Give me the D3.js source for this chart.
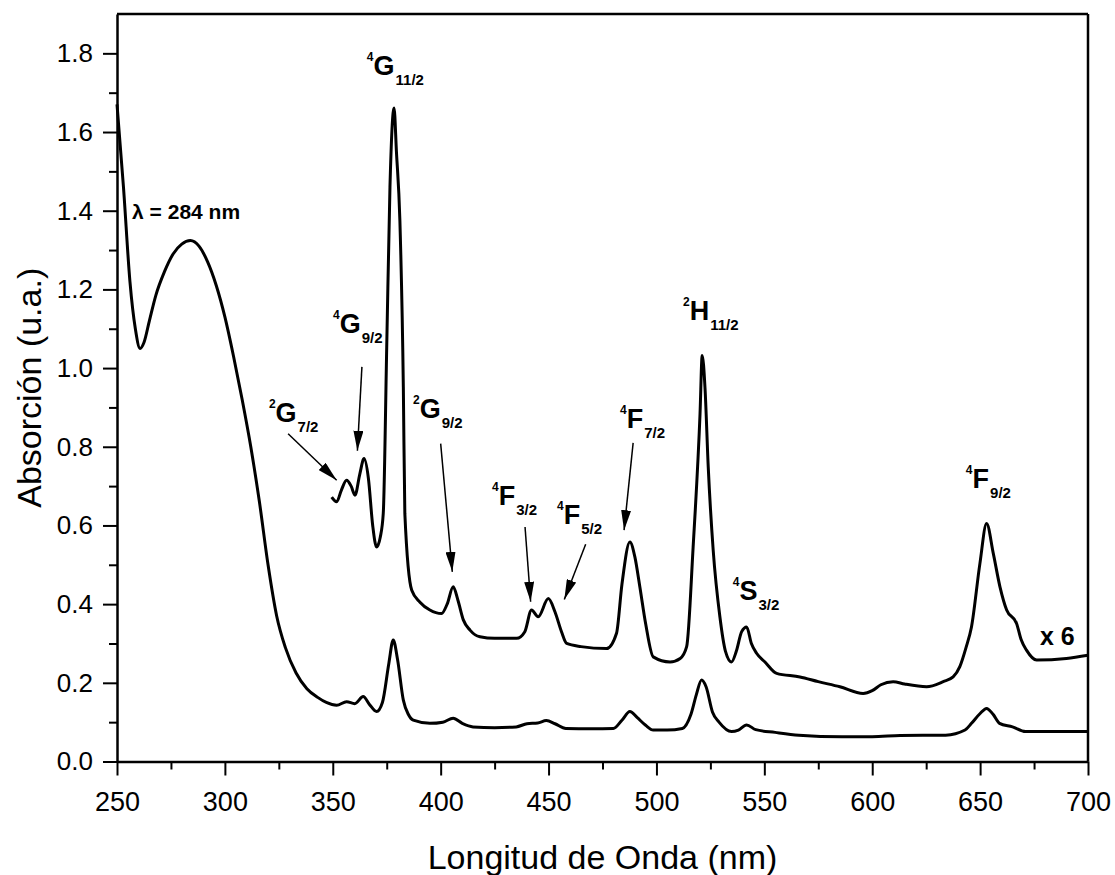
<!DOCTYPE html>
<html>
<head>
<meta charset="utf-8">
<script src="https://cdn.jsdelivr.net/npm/d3@7"></script>
<style>
  body { margin: 0; background: #fff; }
  svg text { font-family: "Liberation Sans", Arial, sans-serif; fill: #000; }
</style>
</head>
<body>
<div id="app"></div>
<script>
// espectro original
const wlMain = [250, 253, 256, 258.5, 260.7, 262.5, 265, 268, 272, 276, 280, 284, 288, 292, 296, 300, 304, 308,
  312, 316, 320, 324, 328, 333, 338, 343, 347, 351.8, 356.4, 360.2, 364.1, 367, 370.3, 373, 376, 378, 380,
  382.7, 385, 387.3, 395, 401, 405.8, 410, 415, 425, 435, 440, 445, 449, 453, 458, 470, 480, 484, 487.7, 491,
  495, 498.5, 505, 512, 516, 518.5, 520.9, 523, 526, 529, 534.8, 538, 541.8, 546, 555, 566, 586, 600, 613,
  634, 643, 646, 650, 653, 656, 659, 665, 671, 676, 690, 700];
const absMain = [1.67, 1.46, 1.22, 1.1, 1.05, 1.065, 1.12, 1.185, 1.245, 1.29, 1.315, 1.324, 1.31, 1.27, 1.21, 1.13, 1.03, 0.92,
  0.8, 0.66, 0.5, 0.37, 0.29, 0.225, 0.185, 0.163, 0.15, 0.143, 0.152, 0.147, 0.165, 0.145, 0.127, 0.15, 0.25, 0.309, 0.26,
  0.156, 0.12, 0.105, 0.097, 0.1, 0.11, 0.097, 0.088, 0.086, 0.088, 0.096, 0.098, 0.104, 0.096, 0.084, 0.083, 0.084, 0.105, 0.127, 0.112,
  0.092, 0.08, 0.08, 0.084, 0.12, 0.17, 0.207, 0.19, 0.125, 0.1, 0.076, 0.08, 0.093, 0.081, 0.074, 0.067, 0.063, 0.063, 0.066,
  0.067, 0.08, 0.097, 0.122, 0.135, 0.12, 0.097, 0.088, 0.076, 0.076, 0.076, 0.076];

// espectro ampliado x 6
const wlX6 = [349.5, 351.8, 354, 356.4, 358.5, 360.3, 362.5, 364.5, 366.5, 368.5, 370.3, 372, 373.4, 375, 376.5,
  378.4, 379.5, 381.1, 382.7, 383.4, 386.6, 390.4, 395, 400.4, 403, 405.8, 408, 410.5, 413.6, 418.2, 425, 435.2,
  439, 442.1, 445.2, 449.9, 453, 456, 458.4, 465, 476.9, 481.5, 484, 487.7, 490, 492.3, 495, 498.5, 506.3, 511,
  514, 517, 520.2, 521.2, 522.5, 524, 526.3, 529.4, 532, 534.8, 537, 539.5, 541.8, 544, 546.4, 550.3, 555.7,
  566.5, 575, 585, 595.8, 600, 604, 609.7, 615, 625.2, 632.9, 637.5, 640.6, 643.5, 646, 649.9, 653, 656.1,
  659.2, 662.3, 666.9, 669, 671.5, 676.2, 690, 700];
const absX6 = [0.672, 0.66, 0.69, 0.715, 0.7, 0.677, 0.73, 0.77, 0.72, 0.6, 0.545, 0.57, 0.631, 1.053, 1.46,
  1.661, 1.55, 1.375, 0.952, 0.63, 0.435, 0.405, 0.385, 0.376, 0.4, 0.444, 0.41, 0.36, 0.334, 0.317, 0.313, 0.313,
  0.33, 0.385, 0.368, 0.414, 0.38, 0.33, 0.3, 0.292, 0.287, 0.326, 0.45, 0.558, 0.52, 0.444, 0.35, 0.266, 0.253, 0.262,
  0.292, 0.545, 0.884, 1.032, 0.95, 0.749, 0.537, 0.368, 0.28, 0.253, 0.28, 0.33, 0.342, 0.3, 0.275, 0.253, 0.224,
  0.215, 0.203, 0.19, 0.173, 0.18, 0.195, 0.203, 0.197, 0.19, 0.203, 0.215, 0.241, 0.29, 0.342, 0.503, 0.605, 0.529,
  0.444, 0.385, 0.351, 0.31, 0.283, 0.258, 0.262, 0.27];

const xTicks = [250, 300, 350, 400, 450, 500, 550, 600, 650, 700];
const xMinor = [275, 325, 375, 425, 475, 525, 575, 625, 675];
const yTicks = [0, 0.2, 0.4, 0.6, 0.8, 1.0, 1.2, 1.4, 1.6, 1.8];
const yMinor = [0.1, 0.3, 0.5, 0.7, 0.9, 1.1, 1.3, 1.5, 1.7];

// niveles: superindice, letra, subindice, posicion (nm, abs)
const levels = [
  { sup: "4", main: "G", sub: "11/2", nm: 365.8, v: 1.746 },
  { sup: "4", main: "G", sub: "9/2", nm: 350.1, v: 1.088 },
  { sup: "2", main: "G", sub: "7/2", nm: 320.4, v: 0.862 },
  { sup: "2", main: "G", sub: "9/2", nm: 387.2, v: 0.872 },
  { sup: "4", main: "F", sub: "3/2", nm: 423.8, v: 0.651 },
  { sup: "4", main: "F", sub: "5/2", nm: 453.9, v: 0.603 },
  { sup: "4", main: "F", sub: "7/2", nm: 483.1, v: 0.847 },
  { sup: "2", main: "H", sub: "11/2", nm: 512.3, v: 1.121 },
  { sup: "4", main: "S", sub: "3/2", nm: 535.4, v: 0.410 },
  { sup: "4", main: "F", sub: "9/2", nm: 643.4, v: 0.695 }
];

// flechas: desde (nm, abs) hasta (nm, abs)
const arrows = [
  [329.3, 0.833, 351.8, 0.715],
  [363.5, 1.003, 361.4, 0.790],
  [400.0, 0.808, 405.4, 0.482],
  [439.1, 0.596, 441.7, 0.406],
  [467.2, 0.552, 457.3, 0.412],
  [489.2, 0.810, 485.0, 0.588]
];

const width = 1115, height = 875;
const margin = { top: 14, left: 117 };
const W = 971, H = 747.5;

const svg = d3.select("#app")
  .append("svg")
  .attr("width", width)
  .attr("height", height);

const x = d3.scaleLinear().domain([250, 700]).range([0, W]);
const y = d3.scaleLinear().domain([0, 1.9]).range([H, 0]);

const g = svg.append("g").attr("transform", `translate(${margin.left},${margin.top})`);

// marco superior y derecho
g.append("line").attr("x1", 0).attr("x2", W).attr("y1", 0).attr("y2", 0)
  .attr("stroke", "#000").attr("stroke-width", 2.5);
g.append("line").attr("x1", W).attr("x2", W).attr("y1", 0).attr("y2", H)
  .attr("stroke", "#000").attr("stroke-width", 2.5);

// ejes
const xAxis = g.append("g")
  .attr("transform", `translate(0,${H})`)
  .call(d3.axisBottom(x).tickValues(xTicks).tickSize(14).tickSizeOuter(0).tickPadding(16).tickFormat(d3.format("d")));
xAxis.selectAll("text").attr("font-size", 27);

g.append("g")
  .attr("transform", `translate(0,${H})`)
  .call(d3.axisBottom(x).tickValues(xMinor).tickSize(8).tickSizeOuter(0).tickFormat(""))
  .select(".domain").remove();

const yAxis = g.append("g")
  .call(d3.axisLeft(y).tickValues(yTicks).tickSize(14).tickSizeOuter(0).tickPadding(10).tickFormat(d3.format(".1f")));
yAxis.selectAll("text").attr("font-size", 26);

g.append("g")
  .call(d3.axisLeft(y).tickValues(yMinor).tickSize(8).tickSizeOuter(0).tickFormat(""))
  .select(".domain").remove();

svg.selectAll(".domain").attr("stroke-width", 2.5);
svg.selectAll(".tick line").attr("stroke-width", 2);

// curvas
const line = d3.line()
  .x(d => x(d[0]))
  .y(d => y(d[1]))
  .curve(d3.curveMonotoneX);

g.append("path")
  .datum(wlMain.map((w, i) => [w, absMain[i]]))
  .attr("fill", "none")
  .attr("stroke", "#000")
  .attr("stroke-width", 3)
  .attr("stroke-linejoin", "round")
  .attr("d", line);

g.append("path")
  .datum(wlX6.map((w, i) => [w, absX6[i]]))
  .attr("fill", "none")
  .attr("stroke", "#000")
  .attr("stroke-width", 3)
  .attr("stroke-linejoin", "round")
  .attr("d", line);

// flechas
svg.append("defs").append("marker")
  .attr("id", "head")
  .attr("viewBox", "0 0 20 10")
  .attr("refX", 20).attr("refY", 5)
  .attr("markerWidth", 20).attr("markerHeight", 10)
  .attr("markerUnits", "userSpaceOnUse")
  .attr("orient", "auto")
  .append("path")
  .attr("d", "M0,0 L20,5 L0,10 Z")
  .attr("fill", "#000");

g.selectAll(".arrow")
  .data(arrows)
  .enter()
  .append("line")
  .attr("class", "arrow")
  .attr("x1", d => x(d[0])).attr("y1", d => y(d[1]))
  .attr("x2", d => x(d[2])).attr("y2", d => y(d[3]))
  .attr("stroke", "#000")
  .attr("stroke-width", 1.5)
  .attr("marker-end", "url(#head)");

// etiquetas de niveles
const lab = g.selectAll(".level")
  .data(levels)
  .enter()
  .append("text")
  .attr("class", "level")
  .attr("x", d => x(d.nm))
  .attr("y", d => y(d.v))
  .attr("font-weight", "bold");
lab.append("tspan").attr("font-size", 12).attr("dy", -14).text(d => d.sup);
lab.append("tspan").attr("font-size", 27).attr("dy", 14).text(d => d.main);
lab.append("tspan").attr("font-size", 15).attr("dy", 10).attr("dx", 1).text(d => d.sub);

g.append("text")
  .attr("x", x(257.0))
  .attr("y", y(1.378))
  .attr("font-size", 21)
  .attr("font-weight", "bold")
  .text("λ = 284 nm");

g.append("text")
  .attr("x", x(677.7))
  .attr("y", y(0.296))
  .attr("font-size", 25)
  .attr("font-weight", "bold")
  .text("x 6");

// titulos de ejes
svg.append("text")
  .attr("x", margin.left + W / 2)
  .attr("y", 869)
  .attr("text-anchor", "middle")
  .attr("font-size", 34)
  .text("Longitud de Onda (nm)");

svg.append("text")
  .attr("transform", `translate(41,${margin.top + H / 2}) rotate(-90)`)
  .attr("text-anchor", "middle")
  .attr("font-size", 34)
  .text("Absorción (u.a.)");
</script>
</body>
</html>
